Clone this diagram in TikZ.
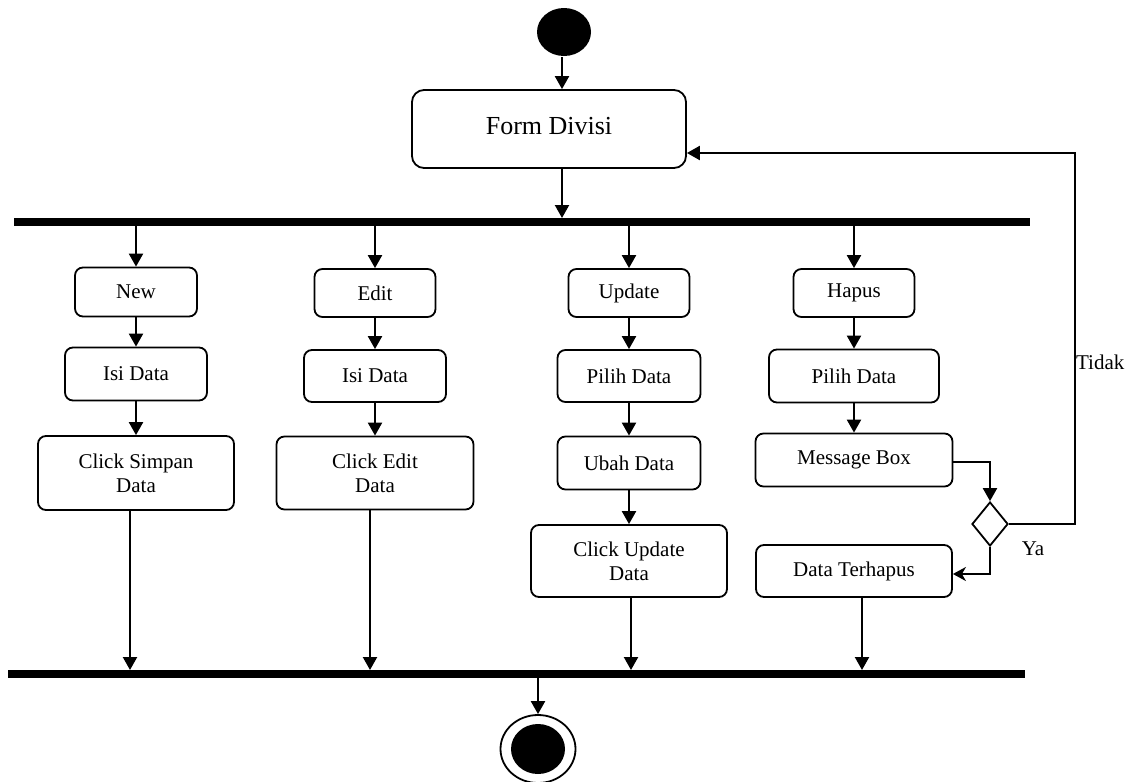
\documentclass[tikz,border=0pt]{standalone}
\usepackage{fontspec}
\setmainfont{Liberation Serif}
\usetikzlibrary{arrows.meta,shapes.geometric}

\begin{document}
\begin{tikzpicture}[x=1pt, y=-1pt, line width=2.2pt,
        main/.style = {draw, rounded corners=8pt, line width=1.8pt, inner sep=0pt, align=center, font=\fontsize{21}{24}\selectfont},
        arr/.style = {-{Triangle[length=13pt,width=14pt]}},
        bar/.style = {line width=8pt},
        lbl/.style = {font=\fontsize{21}{24}\selectfont}]
        \useasboundingbox (0,0) rectangle (1133,782);
        % start and form
        \node[ellipse, fill, minimum width=54pt, minimum height=48pt, inner sep=0pt] (start) at (564,32) {};
        \node[main, minimum width=274pt, minimum height=78pt, rounded corners=12pt, font=\fontsize{26}{30}\selectfont] (form) at (549,129) {\raisebox{6pt}{Form Divisi}};
        % fork and join bars
        \coordinate (f1) at (14,222);
        \coordinate (f2) at (1030,222);
        \coordinate (j1) at (8,674);
        \coordinate (j2) at (1025,674);
        \draw[bar] (f1) -- (f2);
        \draw[bar] (j1) -- (j2);
        % column new
        \node[main, minimum width=122pt, minimum height=49pt] (new)    at (136,292) {New};
        \node[main, minimum width=142pt, minimum height=53pt] (isi1)   at (136,374) {Isi Data};
        \node[main, minimum width=196pt, minimum height=74pt] (simpan) at (136,473) {Click Simpan\\Data};
        % column edit
        \node[main, minimum width=121pt, minimum height=48pt] (edit)   at (375,293) {Edit};
        \node[main, minimum width=142pt, minimum height=52pt] (isi2)   at (375,376) {Isi Data};
        \node[main, minimum width=197pt, minimum height=73pt] (cedit)  at (375,473) {Click Edit\\Data};
        % column update
        \node[main, minimum width=121pt, minimum height=48pt] (update) at (629,293) {Update};
        \node[main, minimum width=143pt, minimum height=52pt] (pilih1) at (629,376) {Pilih Data};
        \node[main, minimum width=143pt, minimum height=53pt] (ubah)   at (629,463) {Ubah Data};
        \node[main, minimum width=196pt, minimum height=72pt] (cupd)   at (629,561) {Click Update\\Data};
        % column hapus
        \node[main, minimum width=121pt, minimum height=48pt] (hapus)  at (854,293) {Hapus};
        \node[main, minimum width=170pt, minimum height=53pt] (pilih2) at (854,376) {Pilih Data};
        \node[main, minimum width=197pt, minimum height=53pt] (msg)    at (854,460) {Message Box};
        \node[main, minimum width=196pt, minimum height=52pt] (gone)   at (854,571) {Data Terhapus};
        \node[diamond, draw, line width=1.8pt, minimum width=36pt, minimum height=44pt, inner sep=0pt] (dec) at (990,524) {};
        % end
        \node[ellipse, draw, line width=1.8pt, minimum width=75pt, minimum height=68pt, inner sep=0pt] (end) at (538,749) {};
        \node[ellipse, fill, minimum width=54pt, minimum height=50pt, inner sep=0pt] (endin) at (end) {};
        \coordinate (back) at (1075,153);
        % flows
        \draw[arr] ([xshift=-2pt]start.south) -- ([xshift=-2pt]start.south |- form.north);
        \draw[arr, shorten >=4pt] ([xshift=13pt]form.south) -- ([xshift=13pt]form.south |- f1);
        \draw[arr] (new.north |- f1) -- (new.north);
        \draw[arr] (edit.north |- f1) -- (edit.north);
        \draw[arr] (update.north |- f1) -- (update.north);
        \draw[arr] (hapus.north |- f1) -- (hapus.north);
        \draw[arr] (new) -- (isi1);
        \draw[arr] (isi1) -- (simpan);
        \draw[arr] (edit) -- (isi2);
        \draw[arr] (isi2) -- (cedit);
        \draw[arr] (update) -- (pilih1);
        \draw[arr] (pilih1) -- (ubah);
        \draw[arr] (ubah) -- (cupd);
        \draw[arr] (hapus) -- (pilih2);
        \draw[arr] (pilih2) -- (msg);
        \draw[arr] ([yshift=-2pt]msg.east) -| (dec.north);
        \draw[-{Stealth[length=13pt,width=14pt,inset=4pt]}] (dec.south) |- ([yshift=-3pt]gone.east);
        \draw[arr] (dec.east) -| (back) -- ([yshift=-24pt]form.east);
        \draw[arr, shorten >=4pt] ([xshift=-6pt]simpan.south) -- ([xshift=-6pt]simpan.south |- j1);
        \draw[arr, shorten >=4pt] ([xshift=-5pt]cedit.south) -- ([xshift=-5pt]cedit.south |- j1);
        \draw[arr, shorten >=4pt] ([xshift=2pt]cupd.south) -- ([xshift=2pt]cupd.south |- j1);
        \draw[arr, shorten >=4pt] ([xshift=8pt]gone.south) -- ([xshift=8pt]gone.south |- j1);
        \draw[arr] (end.north |- j1) -- (end.north);
        % labels
        \node[lbl, anchor=west, inner sep=0pt] (no) at (1075,362) {Tidak};
        \node[lbl] (yes) at (1033,549) {Ya};
    \end{tikzpicture}
\end{document}
